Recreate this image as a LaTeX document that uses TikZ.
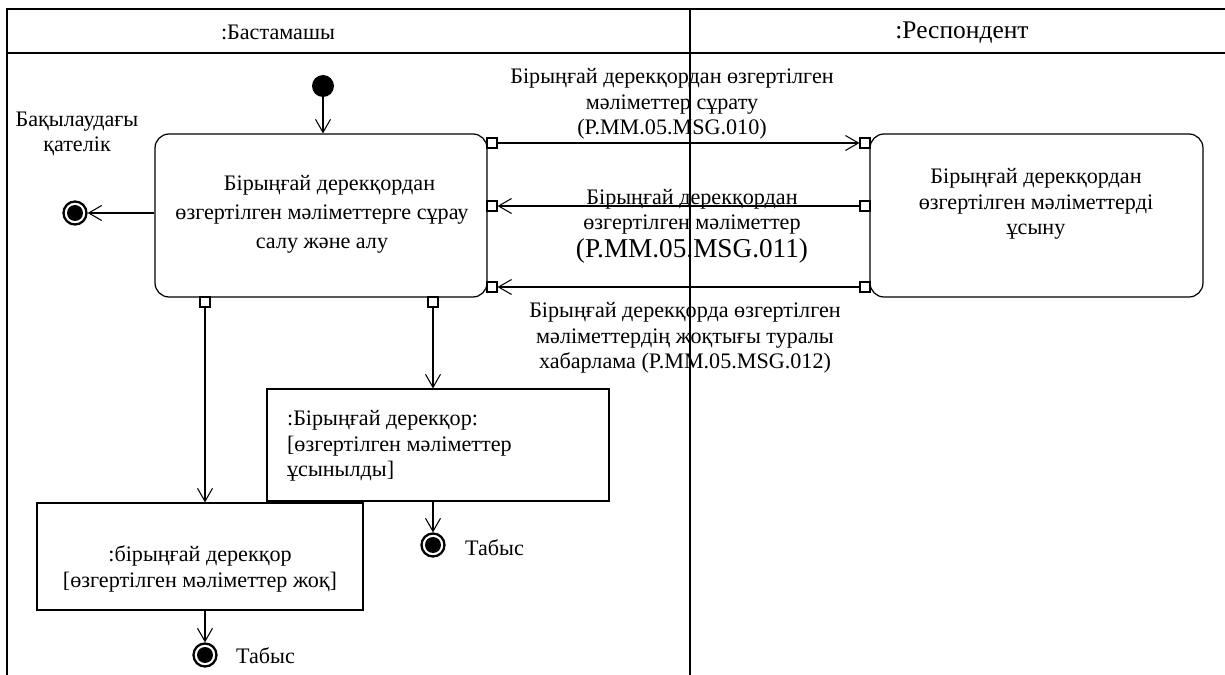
\documentclass[tikz,border=0pt]{standalone}
\usepackage{fontspec}
\setmainfont{Liberation Serif}
\usetikzlibrary{arrows.meta}
\begin{document}
\begin{tikzpicture}[x=0.02cm,y=-0.02cm,
  lane/.style={line width=0.8pt},
  arr/.style={-{Straight Barb[length=0.26cm,width=0.3cm]}, line width=0.6pt},
  action/.style={draw, line width=0.7pt, rounded corners=0.28cm},
  objbox/.style={draw, line width=0.7pt},
  port/.style={draw, fill=white, line width=0.6pt, minimum size=0.2cm, inner sep=0pt},
  initial/.style={circle, fill=black, minimum size=0.44cm, inner sep=0pt},
  final/.style={circle, draw, line width=1.3pt, minimum size=0.46cm, inner sep=0pt,
    path picture={\fill (path picture bounding box.center) circle (0.16cm);}},
  lbl/.style={align=center, font=\fontsize{12.6}{14.5}\selectfont, inner sep=1pt}
]
\useasboundingbox (0,0) rectangle (1225,675);
% swimlane frame
\draw[lane] (7,675) -- (7,9) -- (1225,9);
\draw[lane] (7,53) -- (1225,53);
\draw[lane] (690,9) -- (690,675);
\node (h1) at (278,32) {\fontsize{12.6}{14}\selectfont :Бастамашы};
\node (h2) at (962,33) {\fontsize{14.5}{16}\selectfont :Респондент};

% nodes
\node[initial] (init) at (323,86) {};
\node[action, minimum width=6.64cm, minimum height=3.26cm] (main) at (321,215.5) {};
\node[lbl, font=\fontsize{12.6}{16.5}\selectfont] (tmain) at (322,214)
  {\hspace*{0.3cm}Бірыңғай дерекқордан\\ өзгертілген мәліметтерге сұрау\\ салу және алу};
\node[action, minimum width=6.66cm, minimum height=3.26cm] (resp) at (1036.5,215.5) {};
\node[lbl] (tresp) at (1036,204)
  {Бірыңғай дерекқордан\\ өзгертілген мәліметтерді\\ ұсыну};

\node[port] (pm1) at (492,143) {};
\node[port] (pm2) at (492,206) {};
\node[port] (pm3) at (492,287) {};
\node[port] (pr1) at (865,143) {};
\node[port] (pr2) at (865,206) {};
\node[port] (pr3) at (865,287) {};
\node[port] (pb1) at (205,302) {};
\node[port] (pb2) at (433,302) {};

\node[objbox, minimum width=6.84cm, minimum height=2.24cm] (box2) at (438,445) {};
\node[lbl, align=left, anchor=west] (tbox2) at (285,446)
  {:Бірыңғай дерекқор:\\ {[}өзгертілген мәліметтер\\ ұсынылды{]}};
\node[objbox, minimum width=6.52cm, minimum height=2.14cm] (box1) at (200,556.5) {};
\node[lbl] (tbox1) at (200,569)
  {:бірыңғай дерекқор\\ {[}өзгертілген мәліметтер жоқ{]}};

\node[final] (fl) at (75,213) {};
\node[final] (f2) at (433,545) {};
\node[final] (f1) at (205,655) {};

% labels
\node[lbl] (lb0) at (77,134) {Бақылаудағы\\ қателік};
\node[lbl, anchor=west] (lt2) at (463,548) {Табыс};
\node[lbl, anchor=west] (lt1) at (234,656) {Табыс};
\node[lbl] (l1) at (672,104) {Бірыңғай дерекқордан өзгертілген\\ мәліметтер сұрату\\ (P.MM.05.MSG.010)};
\node[lbl] (l2) at (692,226) {Бірыңғай дерекқордан\\ өзгертілген мәліметтер\\[1pt] {\fontsize{15.5}{17}\selectfont (P.MM.05.MSG.011)}};
\node[lbl] (l3) at (685,338) {Бірыңғай дерекқорда өзгертілген\\ мәліметтердің жоқтығы туралы\\ хабарлама (P.MM.05.MSG.012)};

% connectors
\draw[arr] (init) -- (init |- main.north);
\draw[arr] (main.west |- fl) -- (fl);
\draw[arr] (pm1) -- (pr1);
\draw[arr] (pr2) -- (pm2);
\draw[arr] (pr3) -- (pm3);
\draw[arr] (pb1) -- (pb1 |- box1.north);
\draw[arr] (pb2) -- (pb2 |- box2.north);
\draw[arr] (f2 |- box2.south) -- (f2);
\draw[arr] (f1 |- box1.south) -- (f1);
\end{tikzpicture}
\end{document}
